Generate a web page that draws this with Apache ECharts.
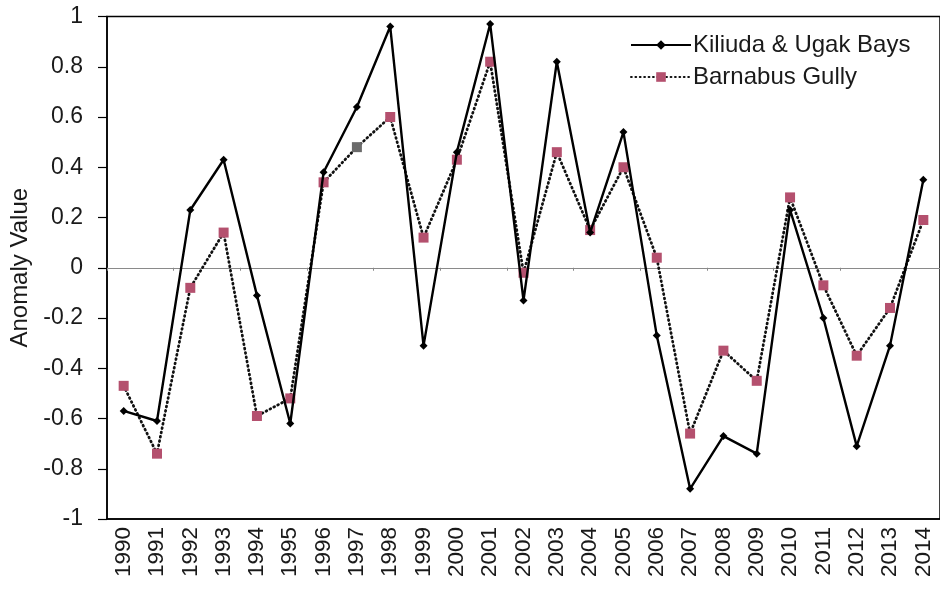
<!DOCTYPE html>
<html>
<head>
<meta charset="utf-8">
<script src="https://cdn.jsdelivr.net/npm/echarts@6/dist/echarts.min.js"></script>
<style>
html,body{margin:0;padding:0;background:#fff;}
#chart{width:940px;height:590px;}
</style>
</head>
<body>
<div id="chart"></div>
<script>
var years = ['1990','1991','1992','1993','1994','1995','1996','1997','1998','1999','2000','2001','2002','2003','2004','2005','2006','2007','2008','2009','2010','2011','2012','2013','2014'];
var kiliuda = [-0.57,-0.61,0.23,0.43,-0.11,-0.62,0.38,0.64,0.96,-0.31,0.46,0.97,-0.13,0.82,0.14,0.54,-0.27,-0.88,-0.67,-0.74,0.23,-0.20,-0.71,-0.31,0.35];
var barnabus = [-0.47,-0.74,-0.08,0.14,-0.59,-0.52,0.34,0.48,0.60,0.12,0.43,0.82,-0.02,0.46,0.15,0.40,0.04,-0.66,-0.33,-0.45,0.28,-0.07,-0.35,-0.16,0.19];
var yTicks = {min:-1, max:1, interval:0.2};
var grayMarkerYear = '1997';

var font = 'Liberation Sans, Arial, sans-serif';
var barnData = barnabus.map(function(v,i){
  if (years[i] === grayMarkerYear) return {value:v, itemStyle:{color:'#6b6b6b'}};
  return v;
});

var chart = echarts.init(document.getElementById('chart'));
chart.setOption({
  animation:false,
  backgroundColor:'#fff',
  textStyle:{fontFamily:font},
  grid:{left:107, top:16.5, right:0, bottom:71, show:true, borderColor:'#000', borderWidth:1.5, backgroundColor:'transparent'},
  legend:{
    orient:'vertical', left:625, top:28,
    itemWidth:60, itemHeight:12, itemGap:8,
    textStyle:{fontFamily:font, fontSize:24, color:'#1a1a1a', padding:[0,0,0,-3]},
    data:['Kiliuda & Ugak Bays','Barnabus Gully']
  },
  xAxis:[{
    type:'category', data:years, boundaryGap:true,
    axisLine:{onZero:false, lineStyle:{color:'#000', width:1.5}},
    axisTick:{show:false},
    axisLabel:{rotate:90, fontSize:22.5, color:'#1a1a1a', margin:8, interval:0, fontFamily:font},
    splitLine:{show:false}
  },{
    type:'category', data:years, boundaryGap:true, position:'bottom',
    axisLine:{onZero:true, lineStyle:{color:'#8a8a8a', width:1.2}},
    axisTick:{show:true, length:3, lineStyle:{color:'#8a8a8a'}},
    axisLabel:{show:false},
    splitLine:{show:false}
  }],
  yAxis:{
    type:'value', min:yTicks.min, max:yTicks.max, interval:yTicks.interval,
    name:'Anomaly Value', nameLocation:'middle', nameGap:73,
    nameTextStyle:{fontSize:24, color:'#1a1a1a', fontFamily:font},
    axisLine:{show:true, lineStyle:{color:'#000', width:1.5}},
    axisTick:{show:true, length:9, lineStyle:{color:'#000', width:1.2}},
    axisLabel:{fontSize:23, color:'#1a1a1a', margin:24, fontFamily:font},
    splitLine:{show:false}
  },
  series:[{
    name:'Kiliuda & Ugak Bays', type:'line', data:kiliuda, xAxisIndex:0,
    symbol:'diamond', symbolSize:8,
    lineStyle:{color:'#000', width:2.4},
    itemStyle:{color:'#000'}, z:3
  },{
    name:'Barnabus Gully', type:'line', data:barnData, xAxisIndex:0,
    symbol:'rect', symbolSize:10,
    lineStyle:{color:'#111', width:2.8, type:[0.8,3.6], cap:'round'},
    itemStyle:{color:'#b4506e'}, z:2
  }]
});
</script>
</body>
</html>
